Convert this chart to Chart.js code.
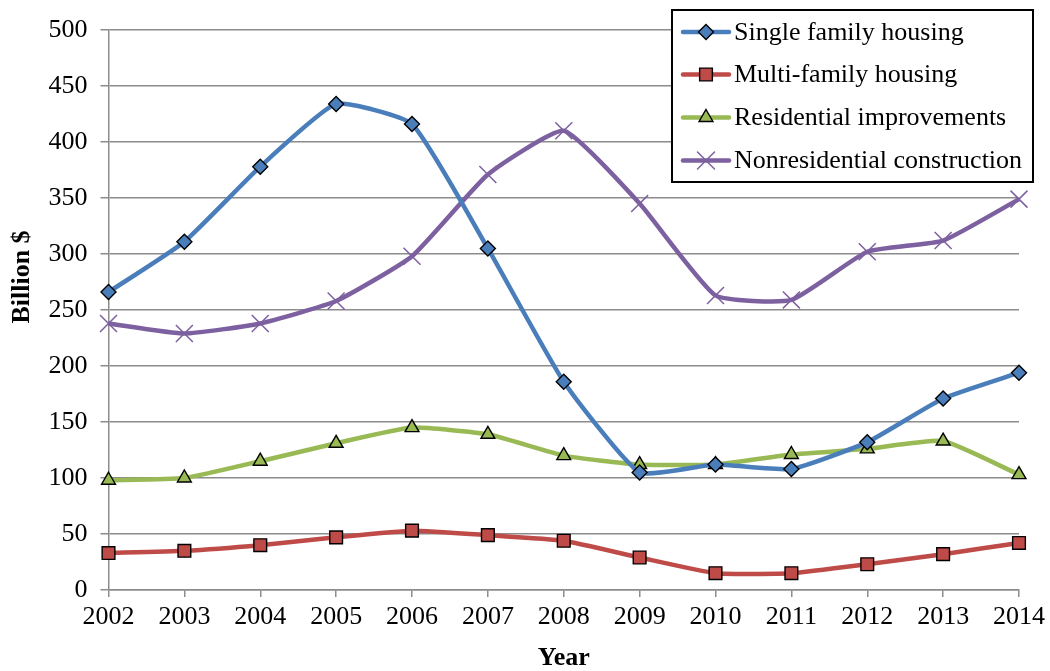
<!DOCTYPE html>
<html>
<head>
<meta charset="utf-8">
<script src="https://cdn.jsdelivr.net/npm/chart.js@4/dist/chart.umd.min.js"></script>
<style>
  body { margin: 0; background: #fff; }
  canvas { display: block; }
</style>
</head>
<body>
<canvas id="spendChart" width="1050" height="671"></canvas>
<script>
const years = ["2002", "2003", "2004", "2005", "2006", "2007", "2008", "2009", "2010", "2011", "2012", "2013", "2014"];
const singleFamily = [266, 311, 378, 434, 416, 305, 186, 105, 112, 108, 132, 171, 194];
const multiFamily = [33, 35, 40, 47, 53, 49, 44, 29, 15, 15, 23, 32, 42];
const resImprovements = [98, 100, 115, 131, 145, 139, 120, 112, 112, 121, 126, 133, 103];
const nonResidential = [238, 229, 238, 258, 298, 371, 410, 345, 263, 259, 302, 312, 349];
const yTicks = [0, 50, 100, 150, 200, 250, 300, 350, 400, 450, 500];

const serif = "'Liberation Serif', 'Times New Roman', serif";
const gridGray = "#8c8c8c";

function series(label, data, color, style, radius, edge) {
  return {
    label: label,
    data: data,
    borderColor: color,
    backgroundColor: color,
    borderWidth: 4.5,
    tension: 0.15,
    pointStyle: style,
    pointRadius: radius,
    pointHoverRadius: radius,
    pointBackgroundColor: color,
    pointBorderColor: edge,
    pointBorderWidth: edge === color ? 1.5 : 1.4,
    clip: false
  };
}

// legend box drawn over the plot, plus the two axis titles
const overlay = {
  id: "overlay",
  afterDraw(chart) {
    const c = chart.ctx;
    c.save();
    c.fillStyle = "#fff";
    c.fillRect(672, 10, 361, 172);
    c.strokeStyle = "#000";
    c.lineWidth = 2;
    c.strokeRect(672, 10, 361, 172);
    const rows = [32, 74.5, 117.5, 160.5];
    chart.data.datasets.forEach((ds, i) => {
      const y = rows[i];
      c.strokeStyle = ds.borderColor;
      c.lineWidth = ds.borderWidth;
      c.lineCap = "round";
      c.beginPath();
      c.moveTo(683, y);
      c.lineTo(729, y);
      c.stroke();
      c.fillStyle = ds.pointBackgroundColor;
      c.strokeStyle = ds.pointBorderColor;
      c.lineWidth = ds.pointBorderWidth;
      Chart.helpers.drawPoint(c, { pointStyle: ds.pointStyle, radius: ds.pointRadius, rotation: 0, borderWidth: ds.pointBorderWidth }, 706, y);
      c.fillStyle = "#000";
      c.font = "26px " + serif;
      c.textAlign = "left";
      c.textBaseline = "middle";
      c.fillText(ds.label, 734, y + 1);
    });

    c.fillStyle = "#000";
    c.font = "bold 26px " + serif;
    c.textAlign = "center";
    c.textBaseline = "middle";
    c.fillText("Year", (chart.chartArea.left + chart.chartArea.right) / 2, 658);
    c.translate(22, 277);
    c.rotate(-Math.PI / 2);
    c.fillText("Billion $", 0, 0);
    c.restore();
  }
};

new Chart(document.getElementById("spendChart").getContext("2d"), {
  type: "line",
  data: {
    labels: years,
    datasets: [
      series("Single family housing", singleFamily, "#4a7ebb", "rectRot", 7.5, "#000"),
      series("Multi-family housing", multiFamily, "#be4b48", "rect", 9, "#000"),
      series("Residential improvements", resImprovements, "#98b954", "triangle", 8, "#000"),
      series("Nonresidential construction", nonResidential, "#7d60a0", "crossRot", 12, "#7d60a0")
    ]
  },
  options: {
    responsive: false,
    animation: false,
    layout: { padding: { top: 30, right: 29, left: 0, bottom: 0 } },
    plugins: {
      legend: { display: false },
      tooltip: { enabled: false }
    },
    scales: {
      x: {
        offset: false,
        afterFit(scale) { scale.height = 81; },
        grid: { drawOnChartArea: false, color: gridGray, lineWidth: 1.5, tickLength: 7 },
        border: { color: gridGray, width: 1.5 },
        ticks: { color: "#000", font: { family: serif, size: 26 }, padding: 5, maxRotation: 0, autoSkip: false }
      },
      y: {
        min: 0,
        max: 500,
        afterFit(scale) { scale.width = 108.5; },
        afterBuildTicks(scale) { scale.ticks = yTicks.map(v => ({ value: v })); },
        grid: { color: gridGray, lineWidth: 1.5, tickLength: 8 },
        border: { color: gridGray, width: 1.5 },
        ticks: { color: "#000", font: { family: serif, size: 26 }, padding: 13 }
      }
    }
  },
  plugins: [overlay]
});
</script>
</body>
</html>
